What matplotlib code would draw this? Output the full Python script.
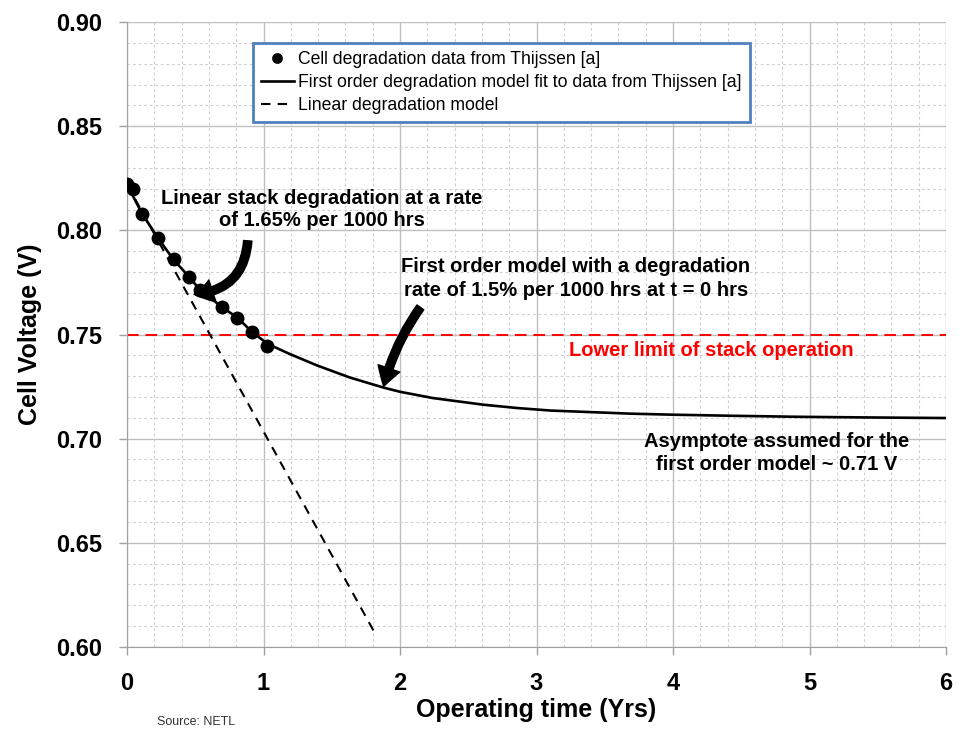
# Cell voltage degradation over operating time
# data points, first order fit and linear degradation model

import matplotlib.pyplot as plt
from matplotlib.patches import FancyArrowPatch
from matplotlib.ticker import MultipleLocator

plt.rcParams['font.family'] = ['Liberation Sans', 'DejaVu Sans']

# cell degradation data (Thijssen)
t_data = [0, 0.044, 0.11, 0.227, 0.344, 0.454, 0.535, 0.696, 0.806, 0.916, 1.026]
v_data = [0.8222, 0.8198, 0.8078, 0.7963, 0.7862, 0.7776, 0.7713, 0.7632, 0.7579, 0.7512, 0.7445]

# first order model
t_fit = [0, 0.11, 0.23, 0.34, 0.45, 0.54, 0.70, 0.81, 0.92, 1.03, 1.19, 1.39, 1.63, 1.88,
         2.0, 2.24, 2.61, 2.86, 3.10, 3.69, 4.0, 4.42, 4.91, 5.39, 6.0]
v_fit = [0.822, 0.808, 0.796, 0.786, 0.778, 0.771, 0.763, 0.758, 0.751, 0.7455, 0.7407, 0.7352,
         0.7294, 0.7245, 0.7225, 0.7195, 0.7163, 0.7147, 0.7135, 0.7120, 0.7115, 0.7110, 0.7105,
         0.7102, 0.7099]

# linear degradation model
t_lin = [0, 1.824]
v_lin = [0.822, 0.6057]

# lower limit of stack operation
t_limit = [0, 6]
v_limit = [0.75, 0.75]

fig = plt.figure(figsize=(9.69, 7.29), dpi=100)
ax = fig.add_axes([0.1311, 0.1125, 0.8452, 0.8573])

ax.plot(t_limit, v_limit, color='red', lw=1.4, dashes=(6, 3.5), zorder=2)
ax.plot(t_lin, v_lin, color='black', lw=1.5, dashes=(4.5, 3.5), zorder=3,
        label='Linear degradation model')
ax.plot(t_fit, v_fit, color='black', lw=1.9, zorder=3,
        label='First order degradation model fit to data from Thijssen [a]')
ax.plot(t_data, v_data, 'o', color='black', ms=9, zorder=4,
        label='Cell degradation data from Thijssen [a]')

ax.set_xlim(0, 6)
ax.set_ylim(0.60, 0.90)
ax.xaxis.set_minor_locator(MultipleLocator(0.2))
ax.yaxis.set_minor_locator(MultipleLocator(0.01))
ax.set_xticks(range(7))
ax.set_xticklabels([str(i) for i in range(7)])
ax.set_yticks([0.60, 0.65, 0.70, 0.75, 0.80, 0.85, 0.90])
ax.set_yticklabels(['0.60', '0.65', '0.70', '0.75', '0.80', '0.85', '0.90'])

ax.grid(which='major', color='#bfbfbf', lw=1.0, zorder=0)
ax.grid(which='minor', color='#cfcfcf', lw=0.8, ls=(0, (2.5, 2.5)), zorder=0)
ax.set_axisbelow(True)
ax.tick_params(which='major', length=6, width=1, color='#a0a0a0', pad=12,
               labelsize=17)
ax.tick_params(which='minor', length=0)
for lab in ax.get_xticklabels() + ax.get_yticklabels():
    lab.set_fontweight('bold')
for side in ['top', 'right']:
    ax.spines[side].set_visible(False)
for side in ['left', 'bottom']:
    ax.spines[side].set_color('#a0a0a0')

ax.set_xlabel('Operating time (Yrs)', fontsize=18, fontweight='bold', labelpad=2)
ax.set_ylabel('Cell Voltage (V)', fontsize=18, fontweight='bold', labelpad=10)

# legend in the order of the original
h, l = ax.get_legend_handles_labels()
order = [2, 1, 0]
leg = ax.legend([h[i] for i in order], [l[i] for i in order], loc='upper left',
                bbox_to_anchor=(0.154, 0.966), borderaxespad=0, fontsize=12.7,
                handlelength=1.85, handletextpad=0.25, labelspacing=0.33,
                borderpad=0.45, markerscale=0.75, fancybox=False, framealpha=1)
leg.get_frame().set_edgecolor('#4f81bd')
leg.get_frame().set_linewidth(2)
leg.set_zorder(10)

# annotations
ax.text(1.429, 0.810, 'Linear stack degradation at a rate\nof 1.65% per 1000 hrs',
        ha='center', va='center', multialignment='center', fontsize=14.5,
        fontweight='bold', linespacing=1.25, zorder=5)
ax.text(3.289, 0.7769, 'First order model with a degradation\nrate of 1.5% per 1000 hrs at t = 0 hrs',
        ha='center', va='center', multialignment='center', fontsize=14.5,
        fontweight='bold', linespacing=1.3, zorder=5)
ax.text(4.278, 0.7425, 'Lower limit of stack operation', color='red',
        ha='center', va='center', fontsize=14.5, fontweight='bold', zorder=5)
ax.text(4.762, 0.6931, 'Asymptote assumed for the\nfirst order model ~ 0.71 V',
        ha='center', va='center', multialignment='center', fontsize=14.5,
        fontweight='bold', linespacing=1.3, zorder=5)

arrow1 = FancyArrowPatch((0.886, 0.7963), (0.47, 0.7692),
                         connectionstyle='arc3,rad=-0.45',
                         arrowstyle='simple,head_length=0.9,head_width=1.1,tail_width=0.4',
                         mutation_scale=15, color='black', zorder=6)
ax.add_patch(arrow1)
arrow2 = FancyArrowPatch((2.161, 0.7641), (1.875, 0.7238),
                         connectionstyle='arc3,rad=0.1',
                         arrowstyle='simple,head_length=0.9,head_width=1.1,tail_width=0.4',
                         mutation_scale=15, color='black', zorder=6)
ax.add_patch(arrow2)

# source note at the bottom edge
fig.text(157 / 969, 1 / 729, 'Source: NETL', fontsize=9, va='bottom', ha='left',
         color='#333333')

plt.savefig('out.png', dpi=100)
